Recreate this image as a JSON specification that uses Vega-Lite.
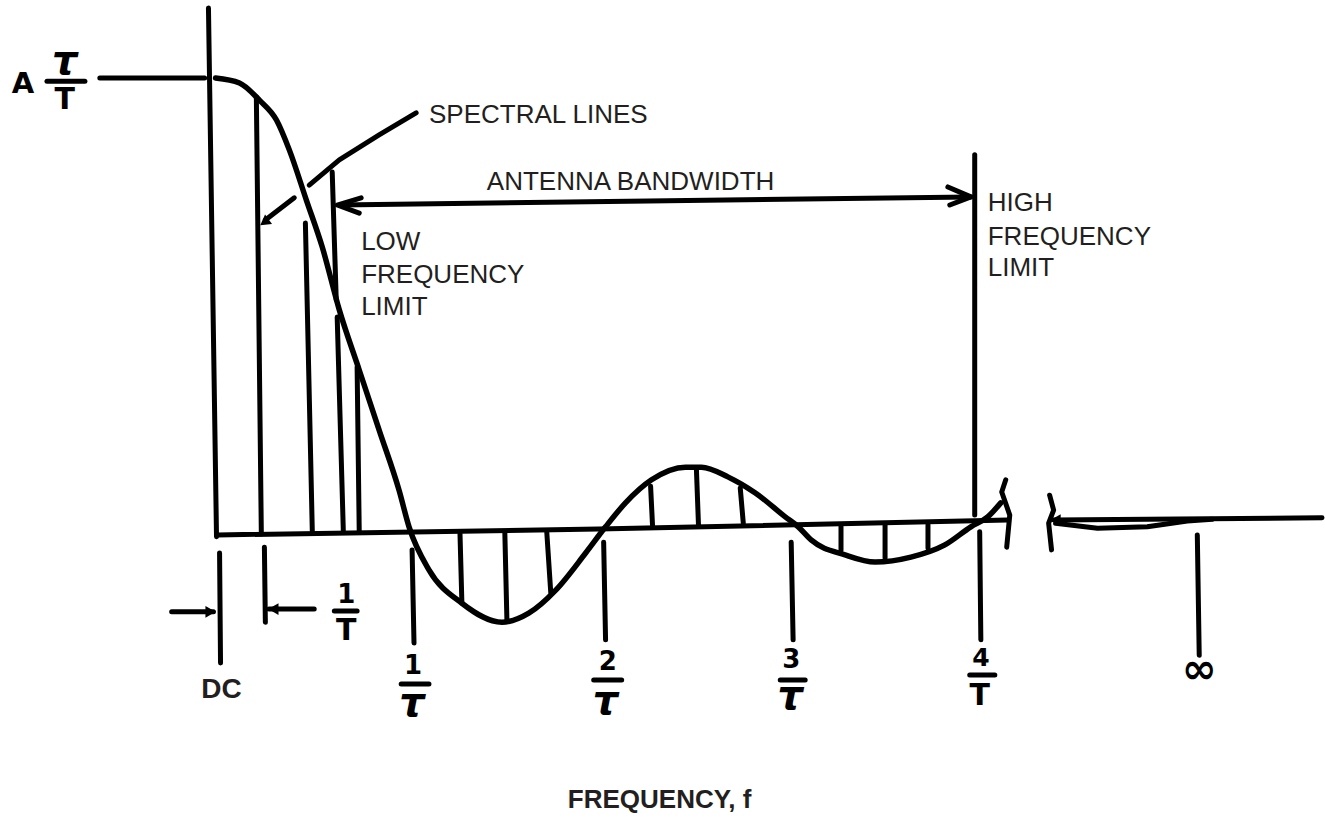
{
  "$schema": "https://vega.github.io/schema/vega-lite/v6.json",
  "width": 1325,
  "height": 818,
  "autosize": {"type": "fit", "contains": "padding"},
  "padding": 0,
  "background": "white",
  "config": {"view": {"stroke": null}},
  "datasets": {
    "curve": [
      {"f": 0.021, "a": 1.0}, {"f": 0.146, "a": 0.989}, {"f": 0.25, "a": 0.951}, {"f": 0.339, "a": 0.907},
      {"f": 0.406, "a": 0.841}, {"f": 0.495, "a": 0.73}, {"f": 0.578, "a": 0.626}, {"f": 0.667, "a": 0.487},
      {"f": 0.771, "a": 0.354}, {"f": 0.875, "a": 0.221}, {"f": 0.979, "a": 0.088}, {"f": 1.031, "a": 0.007},
      {"f": 1.135, "a": -0.088}, {"f": 1.307, "a": -0.162}, {"f": 1.516, "a": -0.204}, {"f": 1.656, "a": -0.184},
      {"f": 1.797, "a": -0.133}, {"f": 1.953, "a": -0.051}, {"f": 2.057, "a": 0.007}, {"f": 2.161, "a": 0.06},
      {"f": 2.297, "a": 0.111}, {"f": 2.474, "a": 0.139}, {"f": 2.557, "a": 0.139}, {"f": 2.698, "a": 0.117},
      {"f": 2.839, "a": 0.082}, {"f": 2.995, "a": 0.029}, {"f": 3.063, "a": 0.007}, {"f": 3.13, "a": -0.022},
      {"f": 3.307, "a": -0.055}, {"f": 3.464, "a": -0.071}, {"f": 3.651, "a": -0.06}, {"f": 3.828, "a": -0.033},
      {"f": 3.964, "a": 0.007}, {"f": 4.052, "a": 0.029}, {"f": 4.12, "a": 0.06}
    ],
    "segs": [
      {"g": "base", "o": 0, "f": 0.031, "a": -0.011}, {"g": "base", "o": 1, "f": 2.021, "a": 0.002}, {"g": "base", "o": 2, "f": 4.156, "a": 0.022},
      {"g": "leader1", "o": 0, "f": 1.068, "a": 0.923}, {"g": "leader1", "o": 1, "f": 0.875, "a": 0.874}, {"g": "leader1", "o": 2, "f": 0.667, "a": 0.819}, {"g": "leader1", "o": 3, "f": 0.51, "a": 0.763},
      {"g": "leader2", "o": 0, "f": 0.432, "a": 0.735}, {"g": "leader2", "o": 1, "f": 0.281, "a": 0.686},
      {"g": "bw", "o": 0, "f": 0.667, "a": 0.719}, {"g": "bw", "o": 1, "f": 2.281, "a": 0.728}, {"g": "bw", "o": 2, "f": 3.964, "a": 0.737},
      {"g": "chevL", "o": 0, "f": 0.781, "a": 0.735}, {"g": "chevL", "o": 1, "f": 0.656, "a": 0.719}, {"g": "chevL", "o": 2, "f": 0.771, "a": 0.701},
      {"g": "chevR", "o": 0, "f": 3.844, "a": 0.759}, {"g": "chevR", "o": 1, "f": 3.964, "a": 0.737}, {"g": "chevR", "o": 2, "f": 3.854, "a": 0.719},
      {"g": "brkL", "o": 0, "f": 4.146, "a": 0.111}, {"g": "brkL", "o": 1, "f": 4.125, "a": 0.084}, {"g": "brkL", "o": 2, "f": 4.167, "a": 0.033}, {"g": "brkL", "o": 3, "f": 4.151, "a": -0.038},
      {"g": "brkR", "o": 0, "f": 4.375, "a": 0.077}, {"g": "brkR", "o": 1, "f": 4.396, "a": 0.044}, {"g": "brkR", "o": 2, "f": 4.37, "a": 0.015}, {"g": "brkR", "o": 3, "f": 4.385, "a": -0.044},
      {"g": "right", "o": 0, "f": 4.396, "a": 0.022}, {"g": "right", "o": 1, "f": 5.797, "a": 0.027},
      {"g": "loop", "o": 0, "f": 4.406, "a": 0.015}, {"g": "loop", "o": 1, "f": 4.625, "a": 0.004}, {"g": "loop", "o": 2, "f": 4.885, "a": 0.007}, {"g": "loop", "o": 3, "f": 5.094, "a": 0.02}, {"g": "loop", "o": 4, "f": 5.224, "a": 0.024},
      {"g": "dcarrow", "o": 0, "f": -0.208, "a": -0.181}, {"g": "dcarrow", "o": 1, "f": 0.01, "a": -0.181},
      {"g": "sparrow", "o": 0, "f": 0.536, "a": -0.175}, {"g": "sparrow", "o": 1, "f": 0.3, "a": -0.175}
    ],
    "rules": [
      {"f": -0.016, "a": 1.155, "f2": 0.026, "a2": -0.015},
      {"f": -0.583, "a": 1.0, "f2": -0.036, "a2": 1.0},
      {"f": 0.234, "a": 0.958, "f2": 0.26, "a2": -0.009},
      {"f": 0.49, "a": 0.679, "f2": 0.526, "a2": -0.002},
      {"f": 0.656, "a": 0.471, "f2": 0.688, "a2": -0.002},
      {"f": 0.76, "a": 0.361, "f2": 0.771, "a2": -0.002},
      {"f": 0.63, "a": 0.792, "f2": 0.651, "a2": 0.509},
      {"f": 1.297, "a": -0.007, "f2": 1.307, "a2": -0.162},
      {"f": 1.531, "a": -0.004, "f2": 1.542, "a2": -0.199},
      {"f": 1.75, "a": -0.004, "f2": 1.771, "a2": -0.139},
      {"f": 2.292, "a": 0.097, "f2": 2.302, "a2": 0.011},
      {"f": 2.531, "a": 0.137, "f2": 2.542, "a2": 0.011},
      {"f": 2.76, "a": 0.093, "f2": 2.776, "a2": 0.015},
      {"f": 3.286, "a": 0.007, "f2": 3.286, "a2": -0.044},
      {"f": 3.516, "a": 0.011, "f2": 3.516, "a2": -0.062},
      {"f": 3.74, "a": 0.011, "f2": 3.74, "a2": -0.04},
      {"f": 1.047, "a": -0.044, "f2": 1.057, "a2": -0.25},
      {"f": 2.047, "a": -0.027, "f2": 2.057, "a2": -0.243},
      {"f": 3.026, "a": -0.027, "f2": 3.036, "a2": -0.243},
      {"f": 4.01, "a": -0.004, "f2": 4.016, "a2": -0.243},
      {"f": 3.984, "a": 0.83, "f2": 3.984, "a2": 0.033},
      {"f": 5.146, "a": -0.011, "f2": 5.156, "a2": -0.277},
      {"f": 0.042, "a": -0.051, "f2": 0.047, "a2": -0.294},
      {"f": 0.276, "a": -0.038, "f2": 0.281, "a2": -0.204},
      {"f": 0.99, "a": -0.341, "f2": 1.135, "a2": -0.341},
      {"f": 1.995, "a": -0.332, "f2": 2.141, "a2": -0.332},
      {"f": 2.969, "a": -0.332, "f2": 3.099, "a2": -0.332},
      {"f": 3.958, "a": -0.321, "f2": 4.089, "a2": -0.321},
      {"f": 0.641, "a": -0.179, "f2": 0.76, "a2": -0.179},
      {"f": -0.859, "a": 0.993, "f2": -0.661, "a2": 0.993}
    ],
    "heads": [
      {"f": -0.005, "a": -0.181, "s": "triangle-right", "ang": 0},
      {"f": 0.323, "a": -0.175, "s": "triangle-left", "ang": 0},
      {"f": 0.276, "a": 0.681, "s": "triangle-right", "ang": 144},
      {"f": 4.406, "a": 0.022, "s": "triangle-left", "ang": 0}
    ],
    "plainL": [
      {"f": 1.135, "a": 0.918, "t": "SPECTRAL LINES"},
      {"f": 0.781, "a": 0.637, "t": "LOW"},
      {"f": 0.781, "a": 0.564, "t": "FREQUENCY"},
      {"f": 0.781, "a": 0.493, "t": "LIMIT"},
      {"f": 4.052, "a": 0.723, "t": "HIGH"},
      {"f": 4.052, "a": 0.648, "t": "FREQUENCY"},
      {"f": 4.052, "a": 0.58, "t": "LIMIT"}
    ],
    "plainC": [
      {"f": 2.1875, "a": 0.77, "t": "ANTENNA BANDWIDTH"}
    ],
    "bold": [
      {"f": 0.052, "a": -0.354, "t": "DC", "sz": 28},
      {"f": 2.339, "a": -0.597, "t": "FREQUENCY, f", "sz": 26}
    ],
    "hand": [
      {"f": 1.052, "a": -0.301, "t": "1", "sz": 26},
      {"f": 2.068, "a": -0.292, "t": "2", "sz": 26},
      {"f": 3.026, "a": -0.288, "t": "3", "sz": 26},
      {"f": 4.016, "a": -0.283, "t": "4", "sz": 25},
      {"f": 4.01, "a": -0.367, "t": "T", "sz": 30},
      {"f": 0.703, "a": -0.144, "t": "1", "sz": 26},
      {"f": 0.703, "a": -0.223, "t": "T", "sz": 30},
      {"f": -0.984, "a": 0.987, "t": "A", "sz": 29},
      {"f": -0.766, "a": 0.951, "t": "T", "sz": 30},
      {"f": 5.156, "a": -0.31, "t": "∞", "sz": 42}
    ],
    "tau": [
      {"f": 1.047, "a": -0.385},
      {"f": 2.057, "a": -0.381},
      {"f": 3.021, "a": -0.369},
      {"f": -0.766, "a": 1.035}
    ]
  },
  "encoding": {
    "x": {"field": "f", "type": "quantitative", "scale": {"domain": [-1.1042, 5.7969], "nice": false, "zero": false}, "axis": null},
    "y": {"field": "a", "type": "quantitative", "scale": {"domain": [-0.6372, 1.1726], "nice": false, "zero": false}, "axis": null}
  },
  "layer": [
    {
      "data": {"name": "rules"},
      "mark": {"type": "rule", "color": "black", "strokeWidth": 5, "strokeCap": "round"},
      "encoding": {"x2": {"field": "f2"}, "y2": {"field": "a2"}}
    },
    {
      "data": {"name": "segs"},
      "mark": {"type": "line", "color": "black", "strokeWidth": 5, "strokeCap": "round", "strokeJoin": "round"},
      "encoding": {"detail": {"field": "g", "type": "nominal"}, "order": {"field": "o", "type": "quantitative"}}
    },
    {
      "data": {"name": "curve"},
      "mark": {"type": "line", "color": "black", "strokeWidth": 5.5, "interpolate": "monotone", "strokeCap": "round"},
      "encoding": {}
    },
    {
      "data": {"name": "heads"},
      "mark": {"type": "point", "filled": true, "color": "black", "size": 140, "opacity": 1},
      "encoding": {
        "shape": {"field": "s", "type": "nominal", "scale": null},
        "angle": {"field": "ang", "type": "quantitative", "scale": null}
      }
    },
    {
      "data": {"name": "plainL"},
      "mark": {"type": "text", "align": "left", "baseline": "middle", "font": "Liberation Sans", "fontSize": 26, "color": "#231f20"},
      "encoding": {"text": {"field": "t"}}
    },
    {
      "data": {"name": "plainC"},
      "mark": {"type": "text", "align": "center", "baseline": "middle", "font": "Liberation Sans", "fontSize": 26, "color": "#231f20"},
      "encoding": {"text": {"field": "t"}}
    },
    {
      "data": {"name": "bold"},
      "mark": {"type": "text", "align": "center", "baseline": "middle", "font": "Liberation Sans", "fontWeight": "bold", "color": "#231f20"},
      "encoding": {"text": {"field": "t"}, "size": {"field": "sz", "type": "quantitative", "scale": null}}
    },
    {
      "data": {"name": "hand"},
      "mark": {"type": "text", "align": "center", "baseline": "middle", "font": "DejaVu Sans", "fontWeight": "bold", "color": "black"},
      "encoding": {"text": {"field": "t"}, "size": {"field": "sz", "type": "quantitative", "scale": null}}
    },
    {
      "data": {"name": "tau"},
      "mark": {"type": "text", "align": "center", "baseline": "middle", "font": "DejaVu Sans", "fontWeight": "bold", "fontStyle": "italic", "fontSize": 40, "color": "black", "text": "τ"},
      "encoding": {}
    }
  ]
}
